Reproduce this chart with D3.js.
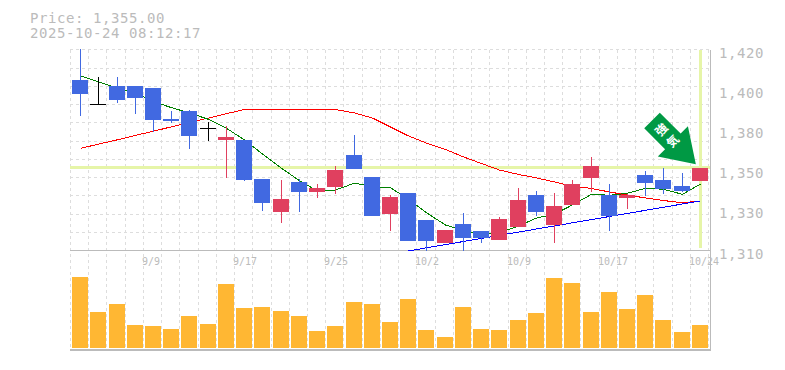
<!DOCTYPE html>
<html><head><meta charset="utf-8">
<script src="https://cdn.jsdelivr.net/npm/d3@7"></script>
<style>
html,body{margin:0;padding:0;background:#fff;overflow:hidden}
text{font-family:"DejaVu Sans Mono",monospace;fill:#bbb}
</style></head><body><svg id="c" width="785" height="370"></svg>
<script>
const opens =[1403.2,1389.8,1399.9,1399.9,1398.8,1381.6,1386.2,1376.7,1370.3,1370.3,1348.9,1330.8,1347.3,1341.8,1344.5,1362,1350,1329.7,1341.2,1326.4,1313.8,1324.2,1320.4,1315.5,1322.6,1340.1,1323.7,1334.7,1349.5,1340.1,1338.5,1351.1,1348.4,1345.1,1347.8];
const closes=[1395.6,1389.8,1392.4,1393.5,1381.2,1380.5,1372.5,1376.7,1371.9,1348.4,1335.8,1337.9,1341.8,1344,1353.8,1354.4,1328.6,1339,1314.9,1314.9,1321,1316.6,1316.6,1327,1337.4,1330.8,1334.1,1346.2,1356,1328.6,1340.1,1346.7,1343.4,1342.3,1355];
const highs =[1420,1404.6,1404.8,1399.9,1398.8,1386.2,1386.7,1380.1,1378,1370.3,1348.9,1348.4,1348.9,1346.2,1356,1373,1350,1340.1,1341.2,1326.4,1321,1330.3,1320.4,1328,1344,1342.3,1341.2,1348.4,1361,1346.2,1340.7,1353.3,1354.9,1352.2,1355];
const lows  =[1383.6,1389.8,1390.7,1384.7,1374.8,1379.6,1365.3,1369.7,1349.6,1347.8,1331.4,1324.8,1330.8,1338.5,1340.7,1354.4,1328.6,1320.4,1314.9,1309.5,1313.8,1309.5,1313.8,1315.5,1322.6,1328.6,1313.8,1334.7,1341.8,1320.4,1332.5,1339.6,1340.7,1341.8,1347.8];
const volumes=[710,360,440,230,220,190,320,240,640,400,410,370,320,170,220,460,440,260,490,180,110,410,190,180,280,350,700,650,360,560,390,530,280,160,230];
const maShort=[1405.4,1402.2,1398.6,1396,1391.3,1388,1385.1,1381.6,1376.7,1370.3,1362.6,1354.8,1348,1342.3,1342.9,1346.6,1344.7,1344.1,1337.9,1330.4,1323.7,1320.6,1318.2,1319.5,1323.2,1327.5,1329.7,1334.7,1340.5,1340,1341.1,1343.8,1343.3,1340.5,1346.2];
const maLong =[1365.7,1368,1370.4,1372.8,1375.1,1377.5,1379.9,1382.3,1384.7,1387,1387,1387,1387,1387,1387,1385.1,1382.3,1377.4,1372.5,1368.6,1365.1,1361,1357.4,1353.8,1351.4,1349.5,1347.3,1345,1343.7,1341.8,1340.1,1338.5,1337.1,1335.9,1336.9];
const trendIndex=[18,34];
const trendValues=[1309.5,1336.9];
const xTickIndex=[4,9,14,19,24,29,34];
const xTickLabels=["9/9","9/17","9/25","10/2","10/9","10/17","10/24"];
const yGridValues=d3.range(1310,1421,10);
const yTickLabels=["1,420","1,400","1,380","1,350","1,330","1,310"];
const headerLines=["Price: 1,355.00","2025-10-24 08:12:17"];
const lastPrice=1355;
const badgeText=["強","気"];
const arrowShape=[[-11,0],[11,0],[11,29.5],[21.3,29.5],[0,62],[-21.3,29.5],[-11,29.5]];

const svg=d3.select("#c");
const idx=d3.range(opens.length);
const x=d3.scaleBand().domain(idx).range([71,709.05]).paddingInner(0).paddingOuter(0);
const cx=i=>Math.round(x(i)+x.bandwidth()/2);
const y=d3.scaleLinear().domain([1310,1420]).range([250,49.25]);
const yv=d3.scaleLinear().domain([0,710]).range([348,277]);
const yLabel=d3.scalePoint().domain(yTickLabels).range([52,253]);
const cr=v=>Math.round(v)+0.5;
const grid="#ddd", axis="#bbb", hl="#e6f5a8";
const up="#e0405f", down="#4169e1", flat="#000";

const g=svg.append("g").attr("shape-rendering","crispEdges");
g.selectAll(".v").data(idx).join("line")
 .attr("x1",i=>cr(x(i))-1).attr("x2",i=>cr(x(i))-1).attr("y1",50).attr("y2",350)
 .attr("stroke",grid).attr("stroke-dasharray","3 3");
g.append("line").attr("x1",cr(x.range()[1])-1).attr("x2",cr(x.range()[1])-1).attr("y1",50).attr("y2",350).attr("stroke",grid).attr("stroke-dasharray","3 3");
g.selectAll(".h").data(yGridValues).join("line")
 .attr("x1",70).attr("x2",710).attr("y1",d=>cr(y(d))).attr("y2",d=>cr(y(d)))
 .attr("stroke",grid).attr("stroke-dasharray","3 3");
g.append("line").attr("x1",710.5).attr("x2",710.5).attr("y1",50).attr("y2",351).attr("stroke",axis);
g.append("line").attr("x1",70).attr("x2",711).attr("y1",250.5).attr("y2",250.5).attr("stroke",axis);
g.append("line").attr("x1",70).attr("x2",711).attr("y1",350).attr("y2",350).attr("stroke",axis).attr("stroke-width",2);
g.append("rect").attr("x",70).attr("width",640).attr("y",y(lastPrice)-1.5).attr("height",3).attr("fill",hl);
g.append("rect").attr("x",cx(34)-1.5).attr("width",3).attr("y",50).attr("height",198).attr("fill",hl);
g.selectAll(".vol").data(idx).join("rect")
 .attr("x",i=>cx(i)-8).attr("width",16).attr("y",i=>yv(volumes[i])).attr("height",i=>348-yv(volumes[i])).attr("fill","#ffb733");
const ln=arr=>d3.line().x((d,i)=>cx(i)+.5).y(d=>y(d))(arr);
g.append("path").attr("d",ln(maLong)).attr("fill","none").attr("stroke","#f00");
g.append("path").attr("d",ln(maShort)).attr("fill","none").attr("stroke","#008000");
g.append("path").attr("d",d3.line().x(d=>cx(d[0])+.5).y(d=>y(d[1]))(trendIndex.map((t,k)=>[t,trendValues[k]]))).attr("fill","none").attr("stroke","#00f");
const col=i=>closes[i]>opens[i]?up:closes[i]<opens[i]?down:flat;
g.selectAll(".w").data(idx).join("line")
 .attr("x1",i=>cx(i)+.5).attr("x2",i=>cx(i)+.5).attr("y1",i=>y(highs[i])).attr("y2",i=>y(lows[i])).attr("stroke",col);
g.selectAll(".b").data(idx).join("rect")
 .attr("x",i=>cx(i)-8).attr("width",16)
 .attr("y",i=>y(Math.max(opens[i],closes[i])))
 .attr("height",i=>Math.max(1,Math.abs(y(opens[i])-y(closes[i]))))
 .attr("fill",col);
const a=svg.append("g").attr("transform","translate(652,120.5) rotate(-45)");
a.append("path").attr("d",d3.line()(arrowShape)+"Z").attr("fill","#009944");
a.selectAll("text").data(badgeText).join("text")
 .attr("x",0).attr("y",(d,i)=>12+i*16).attr("text-anchor","middle").attr("dominant-baseline","central")
 .style("font-family",'"Noto Sans CJK JP"').style("font-size","12px").style("font-weight","700").style("fill","#fff").text(d=>d);
svg.selectAll(".hd").data(headerLines).join("text")
 .attr("x",30).attr("y",(d,i)=>23+i*15).style("font-size","14px").style("letter-spacing","0.57px").text(d=>d);
svg.selectAll(".yl").data(yTickLabels).join("text")
 .attr("x",719).attr("y",d=>yLabel(d)+5.5).style("font-size","14px").style("letter-spacing","0.57px").text(d=>d);
svg.selectAll(".xl").data(xTickIndex).join("text")
 .attr("x",i=>cx(i)-11).attr("y",265).style("font-size","10px").text((d,k)=>xTickLabels[k]);
</script></body></html>
